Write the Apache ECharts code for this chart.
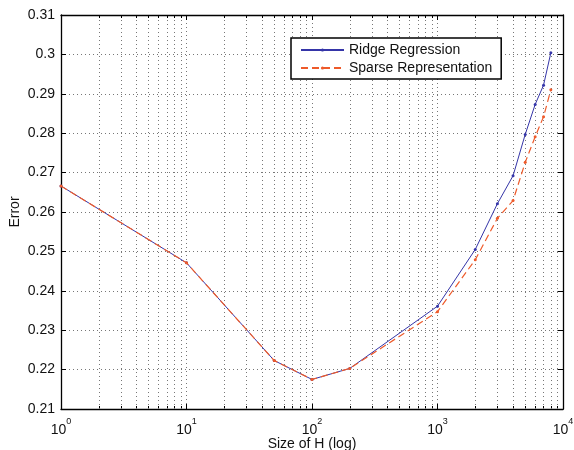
<!DOCTYPE html>
<html><head><meta charset="utf-8">
<script src="https://cdn.jsdelivr.net/npm/echarts@6/dist/echarts.min.js"></script>
<style>html,body{margin:0;padding:0;background:#fff}#c{width:574px;height:450px}</style>
</head><body><div id="c"></div>
<script>
// ---- data ----
const sizes  = [1, 10, 50, 100, 200, 1000, 2000, 3000, 4000, 5000, 6000, 7000, 8000];
const ridge  = [0.2666, 0.2471, 0.2223, 0.2175, 0.2203, 0.2361, 0.2505, 0.2621, 0.2692, 0.2797, 0.2873, 0.2922, 0.3004];
const sparse = [0.2666, 0.2471, 0.2223, 0.2175, 0.2203, 0.2347, 0.2479, 0.2584, 0.2629, 0.2726, 0.2791, 0.2842, 0.2910];
const seriesNames = ['Ridge Regression', 'Sparse Representation'];
const xMajorTicks = [1, 10, 100, 1000, 10000];
const xMinorTicks = [2,3,4,5,6,7,8,9, 20,30,40,50,60,70,80,90, 200,300,400,500,600,700,800,900, 2000,3000,4000,5000,6000,7000,8000,9000];
const yMin = 0.21, yMax = 0.31, yStep = 0.01;
const xTitle = 'Size of H (log)';
const yTitle = 'Error';

// ---- chart ----
const FONT = 'Liberation Sans, Arial, Helvetica, sans-serif';
const GRID = {left: 61, right: 11, top: 15, bottom: 41, containLabel: false, outerBoundsMode: 'none'};
const plotH = 450 - GRID.top - GRID.bottom;
const frame = {show: true, onZero: false, lineStyle: {color: '#000', width: 1.3}};
const dotted = {color: '#777', width: 1, type: [1, 3]};

function logAxis(extra) {
  return Object.assign({
    type: 'log', logBase: 10, min: 1, max: 10000, gridIndex: 0,
    axisLine: {show: false, onZero: false},
    axisTick: {show: false},
    axisLabel: {show: false},
    splitLine: {show: false},
    minorTick: {show: false}, minorSplitLine: {show: false}
  }, extra);
}

const xAxes = [
  logAxis({
    position: 'bottom',
    axisLine: frame,
    axisTick: {show: true, inside: true, length: 5, lineStyle: {color: '#000', width: 1}},
    axisLabel: {
      show: true, margin: 8,
      formatter: v => '{b|10}{s|' + Math.round(Math.log10(v)) + '}',
      rich: {
        b: {fontSize: 14, fontFamily: FONT, color: '#111', lineHeight: 20, verticalAlign: 'bottom'},
        s: {fontSize: 9, fontFamily: FONT, color: '#111', lineHeight: 10, verticalAlign: 'top'}
      }
    },
    splitLine: {show: true, lineStyle: dotted},
    name: xTitle, nameLocation: 'middle', nameGap: 28, nameMoveOverlap: false,
    nameTextStyle: {fontSize: 14, fontFamily: FONT, color: '#111'}
  }),
  logAxis({position: 'bottom', axisTick: {show: true, inside: true, length: 3, customValues: xMinorTicks, lineStyle: {color: '#000', width: 1}}}),
  logAxis({position: 'bottom', axisTick: {show: true, inside: true, length: plotH, customValues: xMinorTicks, lineStyle: dotted}}),
  logAxis({position: 'top', axisLine: frame, axisTick: {show: true, inside: true, length: 5, customValues: xMajorTicks, lineStyle: {color: '#000', width: 1}}}),
  logAxis({position: 'top', axisTick: {show: true, inside: true, length: 3, customValues: xMinorTicks, lineStyle: {color: '#000', width: 1}}})
];

const yAxes = [
  {
    type: 'value', position: 'left', min: yMin, max: yMax, interval: yStep,
    axisLine: frame,
    axisTick: {show: true, inside: true, length: 5, lineStyle: {color: '#000'}},
    axisLabel: {show: true, margin: 6, fontSize: 14, fontFamily: FONT, color: '#111',
      formatter: v => String(parseFloat(v.toFixed(2)))},
    splitLine: {show: true, lineStyle: dotted},
    name: yTitle, nameLocation: 'middle', nameGap: 39, nameMoveOverlap: false,
    nameTextStyle: {fontSize: 14, fontFamily: FONT, color: '#111'}
  },
  {
    type: 'value', position: 'right', min: yMin, max: yMax, interval: yStep,
    axisLine: frame,
    axisTick: {show: true, inside: true, length: 5, lineStyle: {color: '#000'}},
    axisLabel: {show: false}, splitLine: {show: false}
  }
];

const colors = ['#3535a8', '#ee5a2a'];
const chart = echarts.init(document.getElementById('c'), null, {renderer: 'canvas'});
chart.setOption({
  animation: false,
  backgroundColor: '#fff',
  grid: GRID,
  xAxis: xAxes,
  yAxis: yAxes,
  legend: {
    left: 291, top: 38, orient: 'vertical',
    backgroundColor: '#fff', borderColor: '#000', borderWidth: 1.5,
    padding: [5, 9, 4, 9], itemGap: 4, itemWidth: 43, itemHeight: 4,
    textStyle: {fontSize: 14, fontFamily: FONT, color: '#111'},
    data: seriesNames
  },
  series: [
    {
      name: seriesNames[0], type: 'line', xAxisIndex: 0, yAxisIndex: 0,
      data: sizes.map((x, i) => [x, ridge[i]]),
      symbol: 'circle', symbolSize: 3, showSymbol: true,
      itemStyle: {color: colors[0]},
      lineStyle: {color: colors[0], width: 1}, z: 3
    },
    {
      name: seriesNames[1], type: 'line', xAxisIndex: 0, yAxisIndex: 0,
      data: sizes.map((x, i) => [x, sparse[i]]),
      symbol: 'circle', symbolSize: 3, showSymbol: true,
      itemStyle: {color: colors[1]},
      lineStyle: {color: colors[1], width: 1.2, type: [7, 4]}, z: 4
    }
  ]
});
</script>
</body></html>
